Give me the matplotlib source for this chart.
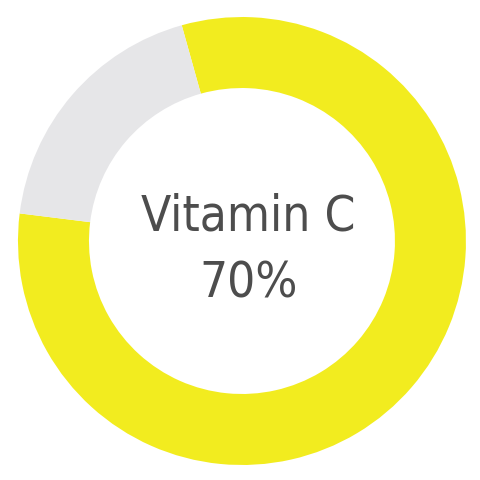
import matplotlib.pyplot as plt

# Données du graphique
labels = ['Vitamin C', 'Reste']
values = [81.3, 18.7]
colors = ['#F2EC1F', '#E6E6E8']
title = 'Vitamin C'
pct_label = '70%'

fig = plt.figure(figsize=(4.8, 4.8), dpi=100)
ax = fig.add_axes([0, 0, 1, 1])
ax.pie(values, colors=colors, startangle=105.6, counterclock=False,
       radius=1.0, wedgeprops=dict(width=0.317, edgecolor='none'))
ax.set_xlim(-1.080, 1.0625)
ax.set_ylim(-1.067, 1.076)
ax.set_aspect('equal')
ax.axis('off')

style = dict(ha='center', va='center', fontsize=35.5, color='#4D4D4D',
             family='DejaVu Sans', fontstretch='condensed', fontweight='light')
ax.text(0.03, 0.11, title, **style)
ax.text(0.03, -0.19, pct_label, **style)

fig.savefig('out.png', dpi=100)
